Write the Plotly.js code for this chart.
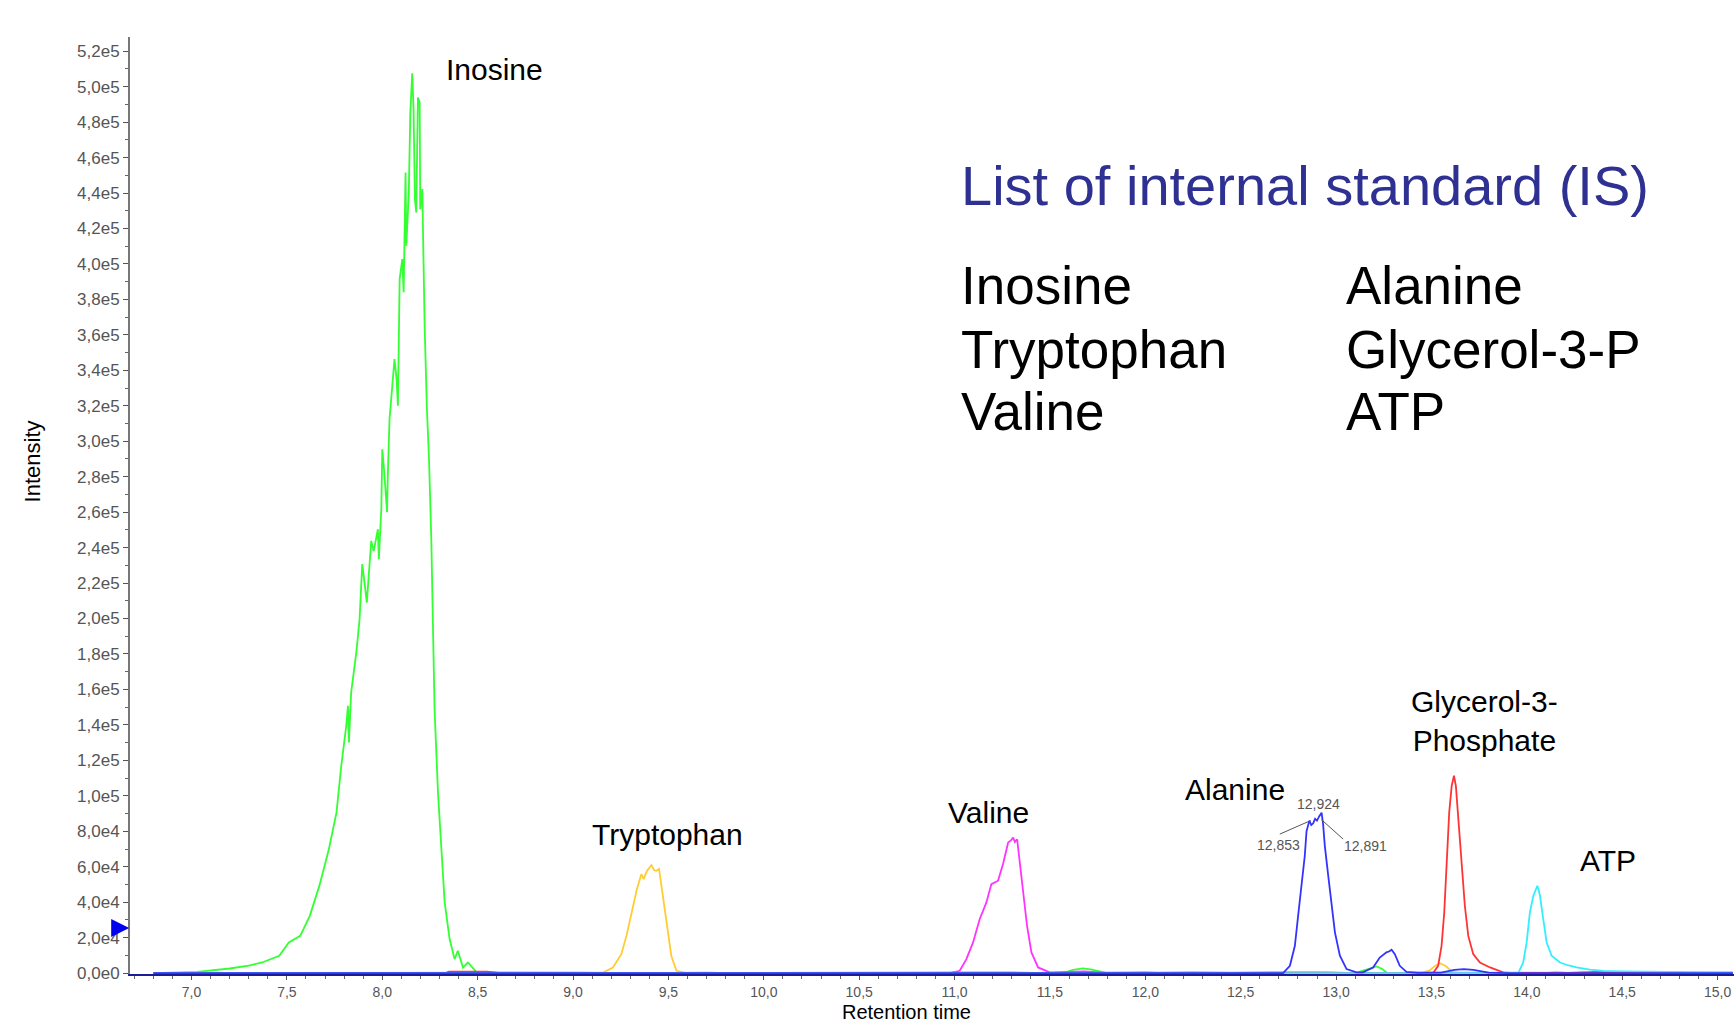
<!DOCTYPE html>
<html>
<head>
<meta charset="utf-8">
<script src="https://cdn.plot.ly/plotly-3.0.1.min.js"></script>
<style>html,body{margin:0;padding:0;background:#fff;}#chart{width:1734px;height:1025px;}</style>
</head>
<body>
<div id="chart"></div>
<script>
// ---- Data (retention time in min, intensity in counts) ----
const inosineRT  = [6.80,6.90,7.03,7.20,7.30,7.37,7.46,7.51,7.57,7.62,7.67,7.72,7.76,7.785,7.811,7.820,7.825,7.837,7.864,7.881,7.895,7.905,7.919,7.942,7.955,7.977,7.982,7.995,8.000,8.010,8.025,8.029,8.038,8.064,8.075,8.082,8.091,8.105,8.112,8.122,8.126,8.139,8.147,8.157,8.164,8.171,8.178,8.187,8.196,8.199,8.210,8.213,8.222,8.234,8.245,8.257,8.265,8.274,8.292,8.309,8.327,8.353,8.379,8.396,8.423,8.449,8.493,8.60,8.75,8.90,9.05,9.20,11.57,11.62,11.674,11.72,11.80,12.25,12.45,12.65,12.85,12.95,13.10,13.15,13.212,13.24,13.27,13.50,15.08];
const inosineInt = [0,300,700,2600,4200,6000,9800,17300,21000,32300,49200,69900,90600,116900,139500,150800,130100,158500,181000,199700,230700,222000,209000,243800,238000,250400,233500,262000,295500,283000,260000,280500,312500,346300,335000,320000,391400,402700,384000,451600,410200,440300,485400,507600,487300,436500,429000,493900,491100,430900,442200,421500,365100,318100,289900,244800,199700,148900,101900,73700,39900,19200,7900,12600,3200,6000,700,400,500,400,300,0,0,1800,2650,2000,0,500,300,600,700,500,0,1500,3800,2500,0,300,0];

const tryptophanRT  = [6.80,9.10,9.157,9.209,9.253,9.280,9.297,9.314,9.335,9.358,9.370,9.388,9.411,9.425,9.437,9.451,9.463,9.480,9.498,9.515,9.542,9.59,9.70,9.80,11.10,11.30,11.45,13.45,13.49,13.52,13.544,13.575,13.61,13.65,14.10,14.15,14.20,15.08];
const tryptophanInt = [0,200,300,3200,10700,21000,28600,38000,47400,55800,53000,57700,60900,58000,57700,58700,49200,36100,21000,9800,1300,300,400,0,700,700,0,0,1500,4200,5600,4000,500,0,0,800,300,0];

const valineRT  = [6.80,10.50,10.975,11.027,11.062,11.097,11.132,11.167,11.193,11.228,11.254,11.281,11.297,11.307,11.316,11.328,11.342,11.359,11.380,11.403,11.438,11.499,11.60,11.68,11.78,12.00,12.10,14.20,14.30,14.50,15.08];
const valineInt = [0,0,0,1300,7900,17300,30500,39900,50200,52100,61500,73700,75000,76500,74000,75500,62400,45500,26700,11700,3200,400,600,1000,300,400,0,0,600,400,0];

const alanineRT  = [6.80,12.70,12.722,12.758,12.784,12.801,12.819,12.836,12.845,12.860,12.870,12.880,12.890,12.900,12.912,12.924,12.932,12.941,12.959,12.976,12.994,13.020,13.055,13.107,13.140,13.194,13.229,13.264,13.280,13.291,13.300,13.308,13.334,13.369,13.430,13.550,13.620,13.670,13.720,13.800,13.900,15.08];
const alanineInt = [0,0,0,4100,15400,32300,49200,66200,80000,86000,83500,84500,87000,86000,88500,90500,84000,71800,54900,38000,23000,9800,2300,400,400,3200,8800,11700,12300,13200,11800,10700,4100,700,200,300,1800,2300,1800,300,0,0];

const g3pRT  = [6.80,8.33,8.35,8.45,8.55,8.62,13.45,13.509,13.535,13.553,13.567,13.579,13.593,13.606,13.618,13.628,13.640,13.658,13.675,13.693,13.719,13.754,13.807,13.876,13.930,14.30,14.35,14.60,15.08];
const g3pInt = [0,0,800,1000,800,0,0,0,4100,15400,34200,62400,90600,105600,111300,105600,86900,60500,38000,21000,10700,6000,3200,400,0,0,600,600,0];

const atpRT  = [6.80,13.93,13.955,13.981,13.999,14.016,14.034,14.045,14.055,14.062,14.069,14.086,14.104,14.130,14.174,14.220,14.261,14.330,14.401,14.500,14.646,14.850,15.08];
const atpInt = [0,0,0,6000,17300,34200,43600,46500,49200,47000,43600,30500,17300,9800,6000,4300,3200,2000,1300,1000,700,600,500];

// peak labels
const peakNames = ["Inosine","Tryptophan","Valine","Alanine","Glycerol-3-<br>Phosphate","ATP"];
const peakLabelRT  = [8.589, 9.496, 11.179, 12.469, 13.780, 14.425];
const peakLabelInt = [509900, 78400, 90800, 103800, 142100, 63700];

// apex retention-time labels on the Alanine peak
const apexLabels = ["12,924","12,853","12,891"];
const apexLabelRT  = [12.910, 12.696, 13.156];
const apexLabelInt = [95300, 72200, 71500];

// threshold marker level on the intensity axis
const markerLevel = 25400;

// internal standard list
const isTitle = "List of internal standard (IS)";
const isColumn1 = ["Inosine","Tryptophan","Valine"];
const isColumn2 = ["Alanine","Glycerol-3-P","ATP"];

// axis titles
const xTitle = "Retention time";
const yTitle = "Intensity";

// y tick labels
const yTickVals = [0,20000,40000,60000,80000,100000,120000,140000,160000,180000,200000,220000,240000,260000,280000,300000,320000,340000,360000,380000,400000,420000,440000,460000,480000,500000,520000];
const yTickText = ["0,0e0","2,0e4","4,0e4","6,0e4","8,0e4","1,0e5","1,2e5","1,4e5","1,6e5","1,8e5","2,0e5","2,2e5","2,4e5","2,6e5","2,8e5","3,0e5","3,2e5","3,4e5","3,6e5","3,8e5","4,0e5","4,2e5","4,4e5","4,6e5","4,8e5","5,0e5","5,2e5"];

// ---- Build chart ----
const FONT = "Liberation Sans, Arial, Helvetica, sans-serif";
function line(x, y, color, name) {
  return {x: x, y: y, type: "scatter", mode: "lines", name: name,
          line: {color: color, width: 1.8}, hoverinfo: "skip"};
}
const traces = [
  line(inosineRT, inosineInt, "#33ff33", "Inosine"),
  line(tryptophanRT, tryptophanInt, "#ffcc33", "Tryptophan"),
  line(valineRT, valineInt, "#ff33ff", "Valine"),
  line(g3pRT, g3pInt, "#ff3333", "Glycerol-3-Phosphate"),
  line(atpRT, atpInt, "#33eeff", "ATP"),
  line(alanineRT, alanineInt, "#3333ff", "Alanine")
];

const annotations = [];
peakNames.forEach((t, i) => annotations.push({
  x: peakLabelRT[i], y: peakLabelInt[i], xref: "x", yref: "y", text: t, showarrow: false,
  xanchor: "center", yanchor: "middle", font: {family: FONT, size: 30, color: "#000"}
}));
apexLabels.forEach((t, i) => annotations.push({
  x: apexLabelRT[i], y: apexLabelInt[i], xref: "x", yref: "y", text: t, showarrow: false,
  xanchor: "center", yanchor: "middle", font: {family: FONT, size: 14, color: "#555"}
}));
annotations.push({x: 0.5168, y: 0.841, xref: "paper", yref: "paper", text: isTitle, showarrow: false,
  xanchor: "left", yanchor: "middle", font: {family: FONT, size: 56, color: "#2e3192"}});
const rowY = [0.7353, 0.667, 0.5998];
isColumn1.forEach((t, i) => annotations.push({x: 0.5168, y: rowY[i], xref: "paper", yref: "paper", text: t,
  showarrow: false, xanchor: "left", yanchor: "middle", font: {family: FONT, size: 53, color: "#000"}}));
isColumn2.forEach((t, i) => annotations.push({x: 0.7569, y: rowY[i], xref: "paper", yref: "paper", text: t,
  showarrow: false, xanchor: "left", yanchor: "middle", font: {family: FONT, size: 53, color: "#000"}}));
// axis titles placed where the reference has them
annotations.push({x: -0.0605, y: 0.547, xref: "paper", yref: "paper", text: yTitle, textangle: -90,
  showarrow: false, xanchor: "center", yanchor: "middle", font: {family: FONT, size: 22, color: "#000"}});
annotations.push({x: 0.4844, y: -0.0405, xref: "paper", yref: "paper", text: xTitle,
  showarrow: false, xanchor: "center", yanchor: "middle", font: {family: FONT, size: 20, color: "#000"}});
// blue arrow marker on the intensity axis
annotations.push({x: -0.0005, y: markerLevel, xref: "paper", yref: "y", text: "", showarrow: true,
  ax: -14, ay: 0, arrowhead: 2, arrowsize: 0.9, arrowwidth: 4, arrowcolor: "#0000ee", standoff: 0});

const shapes = [
  {type: "line", xref: "x", yref: "y", x0: 12.705, y0: 78400, x1: 12.866, y1: 86000, line: {color: "#555", width: 1}},
  {type: "line", xref: "x", yref: "y", x0: 13.037, y0: 75600, x1: 12.924, y1: 86500, line: {color: "#555", width: 1}}
];

const layout = {
  width: 1734, height: 1025,
  margin: {l: 130, r: 0, t: 37, b: 51, pad: 0},
  paper_bgcolor: "#fff", plot_bgcolor: "#fff",
  showlegend: false,
  separators: ",.",
  font: {family: FONT, color: "#555"},
  xaxis: {
    range: [6.6775, 15.086], showgrid: false, zeroline: false,
    showline: true, linecolor: "#1c1c99", linewidth: 2,
    ticks: "outside", ticklen: 4, tickwidth: 1, tickcolor: "#555",
    tick0: 7, dtick: 0.5, tickformat: ".1f",
    minor: {dtick: 0.1, tick0: 7, ticks: "outside", ticklen: 3, tickcolor: "#666", showgrid: false},
    tickfont: {family: FONT, size: 14, color: "#555"},
    title: {text: ""}
  },
  yaxis: {
    range: [-500, 528000], showgrid: false, zeroline: false,
    showline: true, linecolor: "#777", linewidth: 2,
    ticks: "outside", ticklen: 5, tickwidth: 1, tickcolor: "#555",
    tickvals: yTickVals, ticktext: yTickText,
    minor: {dtick: 10000, tick0: 0, ticks: "outside", ticklen: 3, tickcolor: "#666", showgrid: false},
    tickfont: {family: FONT, size: 17, color: "#555"},
    title: {text: ""}
  },
  annotations: annotations,
  shapes: shapes
};

Plotly.newPlot("chart", traces, layout, {displayModeBar: false, staticPlot: true});
</script>
</body>
</html>
